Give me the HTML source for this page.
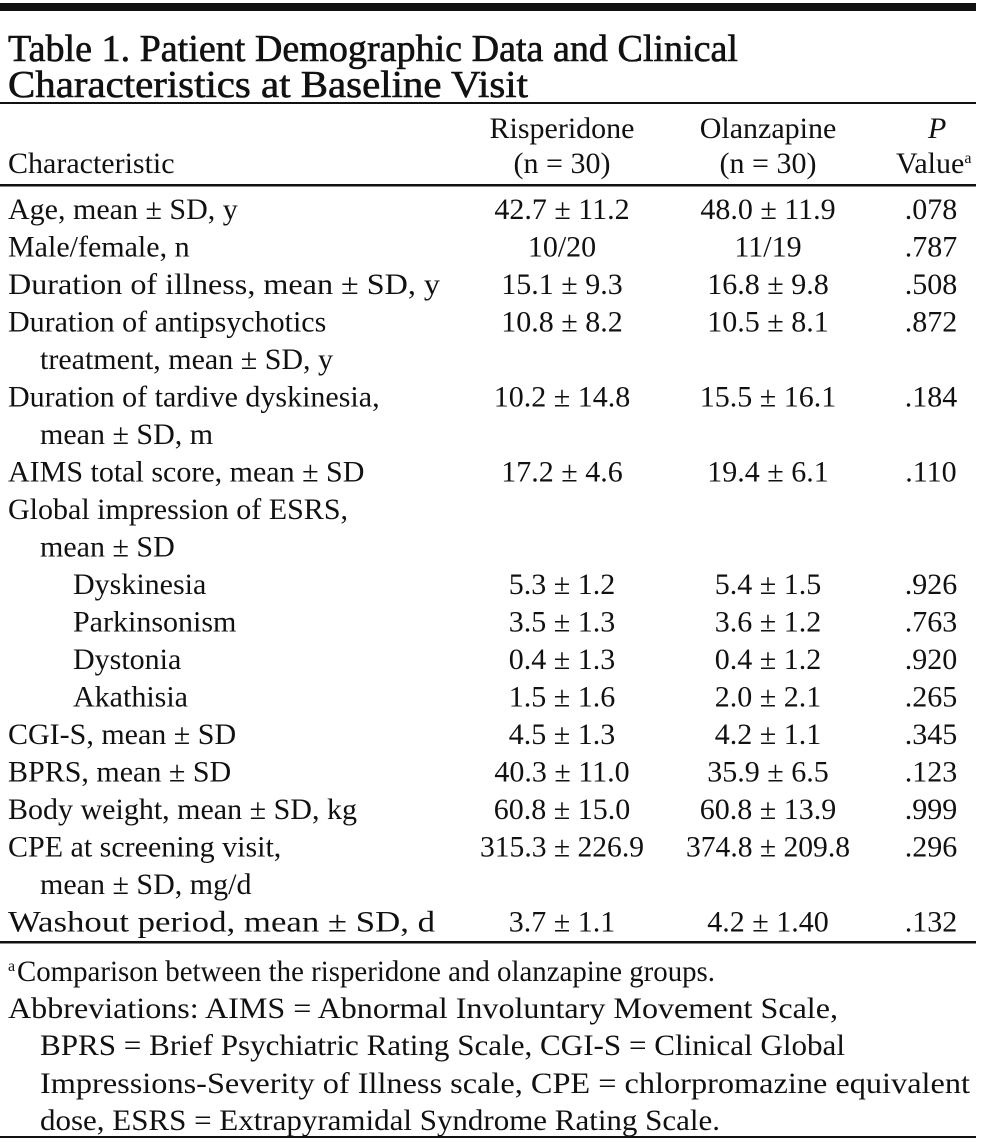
<!DOCTYPE html>
<html><head><meta charset="utf-8"><style>
html,body{margin:0;padding:0;background:#fff;}
svg{display:block;}
text{font-family:"Liberation Serif",serif;fill:#111;font-size:30px;}
.t{font-size:38px;}
.c{text-anchor:middle;}
</style></head><body>
<svg width="983" height="1142" viewBox="0 0 983 1142">
<rect x="0" y="3" width="976" height="8" fill="#111"/>
<text class="t" x="8" y="61" textLength="730" lengthAdjust="spacingAndGlyphs" stroke="#111" stroke-width="0.6">Table 1. Patient Demographic Data and Clinical</text>
<text class="t" x="8" y="97" textLength="520" lengthAdjust="spacingAndGlyphs" stroke="#111" stroke-width="0.6">Characteristics at Baseline Visit</text>
<rect x="0" y="102" width="976" height="2" fill="#111"/>
<g>
<text x="8" y="173">Characteristic</text>
<text class="c" x="562" y="138">Risperidone</text>
<text class="c" x="562" y="173">(n = 30)</text>
<text class="c" x="768" y="138">Olanzapine</text>
<text class="c" x="768" y="173">(n = 30)</text>
<text x="928" y="138" font-style="italic">P</text>
<text x="896" y="173">Value<tspan style="font-size:16px" dy="-10">a</tspan></text>
</g>
<rect x="0" y="184" width="976" height="2.5" fill="#111"/>
<g>
<text x="8" y="219">Age, mean ± SD, y</text><text class="c" x="562" y="219">42.7 ± 11.2</text><text class="c" x="768" y="219">48.0 ± 11.9</text><text class="c" x="931" y="219">.078</text>
<text x="8" y="256.5">Male/female, n</text><text class="c" x="562" y="256.5">10/20</text><text class="c" x="768" y="256.5">11/19</text><text class="c" x="931" y="256.5">.787</text>
<text x="8" y="294" textLength="432" lengthAdjust="spacingAndGlyphs">Duration of illness, mean ± SD, y</text><text class="c" x="562" y="294">15.1 ± 9.3</text><text class="c" x="768" y="294">16.8 ± 9.8</text><text class="c" x="931" y="294">.508</text>
<text x="8" y="331.5">Duration of antipsychotics</text><text class="c" x="562" y="331.5">10.8 ± 8.2</text><text class="c" x="768" y="331.5">10.5 ± 8.1</text><text class="c" x="931" y="331.5">.872</text>
<text x="40" y="369">treatment, mean ± SD, y</text>
<text x="8" y="406.5">Duration of tardive dyskinesia,</text><text class="c" x="562" y="406.5">10.2 ± 14.8</text><text class="c" x="768" y="406.5">15.5 ± 16.1</text><text class="c" x="931" y="406.5">.184</text>
<text x="40" y="444">mean ± SD, m</text>
<text x="8" y="481.5">AIMS total score, mean ± SD</text><text class="c" x="562" y="481.5">17.2 ± 4.6</text><text class="c" x="768" y="481.5">19.4 ± 6.1</text><text class="c" x="931" y="481.5">.110</text>
<text x="8" y="519">Global impression of ESRS,</text>
<text x="40" y="556.5">mean ± SD</text>
<text x="73" y="594">Dyskinesia</text><text class="c" x="562" y="594">5.3 ± 1.2</text><text class="c" x="768" y="594">5.4 ± 1.5</text><text class="c" x="931" y="594">.926</text>
<text x="73" y="631.5">Parkinsonism</text><text class="c" x="562" y="631.5">3.5 ± 1.3</text><text class="c" x="768" y="631.5">3.6 ± 1.2</text><text class="c" x="931" y="631.5">.763</text>
<text x="73" y="669">Dystonia</text><text class="c" x="562" y="669">0.4 ± 1.3</text><text class="c" x="768" y="669">0.4 ± 1.2</text><text class="c" x="931" y="669">.920</text>
<text x="73" y="706.5">Akathisia</text><text class="c" x="562" y="706.5">1.5 ± 1.6</text><text class="c" x="768" y="706.5">2.0 ± 2.1</text><text class="c" x="931" y="706.5">.265</text>
<text x="8" y="744">CGI-S, mean ± SD</text><text class="c" x="562" y="744">4.5 ± 1.3</text><text class="c" x="768" y="744">4.2 ± 1.1</text><text class="c" x="931" y="744">.345</text>
<text x="8" y="781.5">BPRS, mean ± SD</text><text class="c" x="562" y="781.5">40.3 ± 11.0</text><text class="c" x="768" y="781.5">35.9 ± 6.5</text><text class="c" x="931" y="781.5">.123</text>
<text x="8" y="819">Body weight, mean ± SD, kg</text><text class="c" x="562" y="819">60.8 ± 15.0</text><text class="c" x="768" y="819">60.8 ± 13.9</text><text class="c" x="931" y="819">.999</text>
<text x="8" y="856.5">CPE at screening visit,</text><text class="c" x="562" y="856.5" textLength="164" lengthAdjust="spacingAndGlyphs">315.3 ± 226.9</text><text class="c" x="768" y="856.5" textLength="164" lengthAdjust="spacingAndGlyphs">374.8 ± 209.8</text><text class="c" x="931" y="856.5">.296</text>
<text x="40" y="894">mean ± SD, mg/d</text>
<text x="8" y="931.5" textLength="427" lengthAdjust="spacingAndGlyphs">Washout period, mean ± SD, d</text><text class="c" x="562" y="931.5">3.7 ± 1.1</text><text class="c" x="768" y="931.5">4.2 ± 1.40</text><text class="c" x="931" y="931.5">.132</text>
</g>
<rect x="0" y="941" width="976" height="2.5" fill="#111"/>
<g>
<text x="8" y="971" style="font-size:16px">a</text>
<text x="17" y="981" textLength="698" lengthAdjust="spacingAndGlyphs">Comparison between the risperidone and olanzapine groups.</text>
<text x="8" y="1018" textLength="830" lengthAdjust="spacingAndGlyphs">Abbreviations: AIMS = Abnormal Involuntary Movement Scale,</text>
<text x="40" y="1055" textLength="805" lengthAdjust="spacingAndGlyphs">BPRS = Brief Psychiatric Rating Scale, CGI-S = Clinical Global</text>
<text x="40" y="1093" textLength="930" lengthAdjust="spacingAndGlyphs">Impressions-Severity of Illness scale, CPE = chlorpromazine equivalent</text>
<text x="40" y="1130" textLength="680" lengthAdjust="spacingAndGlyphs">dose, ESRS = Extrapyramidal Syndrome Rating Scale.</text>
</g>
<rect x="0" y="1136" width="976" height="2" fill="#111"/>
</svg>
</body></html>
